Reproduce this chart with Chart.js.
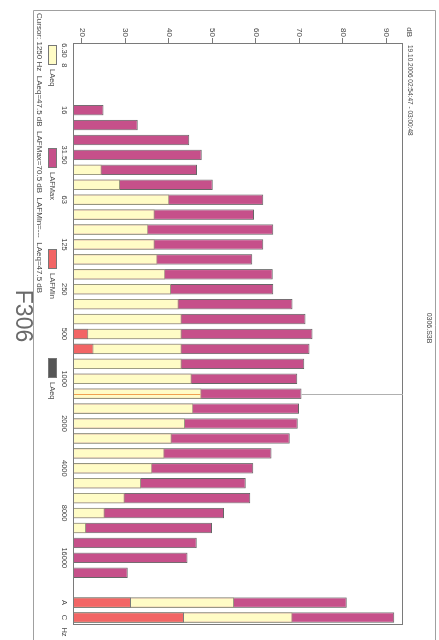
<!DOCTYPE html>
<html>
<head>
<meta charset="utf-8">
<title>F306</title>
<script src="https://cdn.jsdelivr.net/npm/chart.js@4.4.1/dist/chart.umd.min.js"></script>
<style>
  html, body { margin: 0; padding: 0; background: #fff; overflow: hidden; }
  #wrap { position: relative; width: 439px; height: 640px; }
  /* the printout is turned a quarter: draw it upright, then rotate */
  #rta { position: absolute; left: 0; top: 0; transform-origin: 0 0; transform: translate(439px, 0) rotate(90deg); }
</style>
</head>
<body>
<div id="wrap"><canvas id="rta" width="640" height="439"></canvas></div>
<script>
// 1/3 octave bands, then the broadband A and C values
const bands = ['6.3', '8', '10', '12.5', '16', '20', '25', '31.5', '40', '50', '63', '80', '100', '125', '160',
    '200', '250', '315', '400', '500', '630', '800', '1000', '1250', '1600', '2000', '2500', '3150', '4000',
    '5000', '6300', '8000', '10000', '12500', '16000', '20000', '', 'A', 'C'];

const bandLabels = ['6.30', '8', '', '', '16', '', '', '31.50', '', '', '63', '', '', '125', '',
    '', '250', '', '', '500', '', '', '1000', '', '', '2000', '', '', '4000',
    '', '', '8000', '', '', '16000', '', '', 'A', 'C'];

const lafMin = [null, null, null, null, null, null, null, null, null, null, null, null, null, null, null,
    null, null, null, null, 21.5, 22.7, null, null, null, null, null, null, null, null,
    null, null, null, null, null, null, null, null, 31.3, 43.5];

const laeq = [null, null, null, null, null, null, null, null, 24.6, 28.8, 40.1, 36.8, 35.3, 36.8, 37.4,
    39.2, 40.5, 42.3, 43.0, 43.0, 43.0, 43.0, 45.3, 47.5, 45.6, 43.7, 40.7, 39.0, 36.2,
    33.6, 29.9, 25.3, 21.0, null, null, null, null, 55.0, 68.4];

const lafMax = [null, null, null, null, 25.0, 32.9, 44.7, 47.6, 46.5, 50.1, 61.7, 59.6, 64.0, 61.7, 59.2,
    63.9, 64.0, 68.4, 71.4, 73.0, 72.3, 71.1, 69.5, 70.5, 69.9, 69.6, 67.8, 63.6, 59.4,
    57.7, 58.7, 52.7, 49.9, 46.4, 44.3, 30.6, null, 80.9, 91.8];

const dbTicks = [20, 30, 40, 50, 60, 70, 80, 90];

const cursorBand = '1250';
const caption = 'Cursor: 1250 Hz  LAeq=47.5 dB  LAFMax=70.5 dB  LAFMin=---  LAeq=47.5 dB';
const period = '19.10.2006 02:54:47 - 03:00:48';
const fileName = '0306.S3B';
const title = 'F306';

const font = "'Liberation Sans', Arial, sans-serif";
const txt = '#444';

const legendItems = [
    { label: 'LAeq', color: '#fffcc6', x: 45 },
    { label: 'LAFMax', color: '#c6508a', x: 148 },
    { label: 'LAFMin', color: '#f26565', x: 249 },
    { label: 'LAeq', color: '#555555', x: 358 },
];

const extras = {
    id: 'extras',
    afterDraw(chart) {
        const { ctx, chartArea: a, scales: { x, y } } = chart;
        ctx.save();

        // outer frame of the printout
        ctx.strokeStyle = '#a0a0a0';
        ctx.lineWidth = 1;
        ctx.beginPath();
        ctx.moveTo(640, 3.5);
        ctx.lineTo(10.5, 3.5);
        ctx.lineTo(10.5, 405.5);
        ctx.lineTo(640, 405.5);
        ctx.stroke();

        // plot box
        ctx.strokeStyle = '#7a7a7a';
        ctx.strokeRect(a.left + 0.5, a.top + 0.5, a.right - a.left - 1, a.bottom - a.top - 1);

        // cursor
        const i = bands.indexOf(cursorBand);
        const cx = Math.round(x.getPixelForValue(i)) + 0.5;
        ctx.strokeStyle = '#b0b0b0';
        ctx.beginPath();
        ctx.moveTo(cx, a.top);
        ctx.lineTo(cx, y.getPixelForValue(lafMax[i]));
        ctx.stroke();
        ctx.strokeStyle = '#f0a050';
        ctx.beginPath();
        ctx.moveTo(cx, a.bottom - 1);
        ctx.lineTo(cx, y.getPixelForValue(laeq[i]) + 1);
        ctx.stroke();

        ctx.fillStyle = txt;
        ctx.textBaseline = 'middle';

        ctx.font = '8px ' + font;
        ctx.textAlign = 'right';
        ctx.fillText('dB', 37, 30);
        ctx.font = '7.5px ' + font;
        ctx.textAlign = 'center';
        ctx.fillText('Hz', 632, 374.5);

        ctx.textAlign = 'left';
        ctx.font = '6.5px ' + font;
        ctx.fillText(period, 45, 29);

        ctx.textAlign = 'center';
        ctx.font = '7px ' + font;
        ctx.fillText(fileName, 328, 10);

        ctx.textAlign = 'left';
        ctx.font = '8px ' + font;
        ctx.fillText(caption, 13, 400);

        // legend strip
        ctx.font = '7.5px ' + font;
        legendItems.forEach(it => {
            ctx.fillStyle = it.color;
            ctx.fillRect(it.x, 382, 20, 9);
            ctx.strokeStyle = '#777';
            ctx.strokeRect(it.x + 0.5, 382.5, 19, 8);
            ctx.fillStyle = txt;
            ctx.fillText(it.label, it.x + 24, 387);
        });

        ctx.textAlign = 'center';
        ctx.fillStyle = '#6a6a6a';
        ctx.font = '23px ' + font;
        ctx.fillText(title, 316, 417);

        ctx.restore();
    }
};

const rtaData = {
    labels: bands,
    datasets: [{
        label: 'LAFMin',
        data: lafMin,
        backgroundColor: '#f26565',
        borderColor: '#7a7a7a',
    }, {
        label: 'LAeq',
        data: laeq,
        backgroundColor: '#fffcc6',
        borderColor: '#9a9a80',
    }, {
        label: 'LAFMax',
        data: lafMax,
        backgroundColor: '#c6508a',
        borderColor: '#666666',
    }]
};

const rtaConfig = {
    type: 'bar',
    data: rtaData,
    options: {
        responsive: false,
        animation: false,
        devicePixelRatio: 1,
        layout: { padding: { top: 36, right: 15, bottom: 0, left: 0 } },
        datasets: {
            bar: {
                grouped: false,
                borderWidth: 1,
                barPercentage: 0.7,
                categoryPercentage: 1,
            }
        },
        scales: {
            x: {
                offset: true,
                grid: { display: false, drawTicks: false },
                border: { display: false },
                ticks: {
                    autoSkip: false,
                    maxRotation: 0,
                    minRotation: 0,
                    padding: 4,
                    color: txt,
                    font: { family: font, size: 7.5 },
                    callback: (v, i) => bandLabels[i],
                },
                afterFit: s => { s.height = 73; }
            },
            y: {
                min: 18,
                max: 93.8,
                afterBuildTicks: s => { s.ticks = dbTicks.map(v => ({ value: v })); },
                grid: { drawOnChartArea: false, tickLength: 5, color: '#7a7a7a' },
                border: { display: false },
                ticks: {
                    padding: 1,
                    color: txt,
                    font: { family: font, size: 8 },
                },
                afterFit: s => { s.width = 43; }
            }
        },
        plugins: {
            legend: { display: false },
            tooltip: { enabled: false }
        }
    },
    plugins: [extras]
};

const rtaChart = new Chart(document.getElementById('rta'), rtaConfig);
</script>
</body>
</html>
